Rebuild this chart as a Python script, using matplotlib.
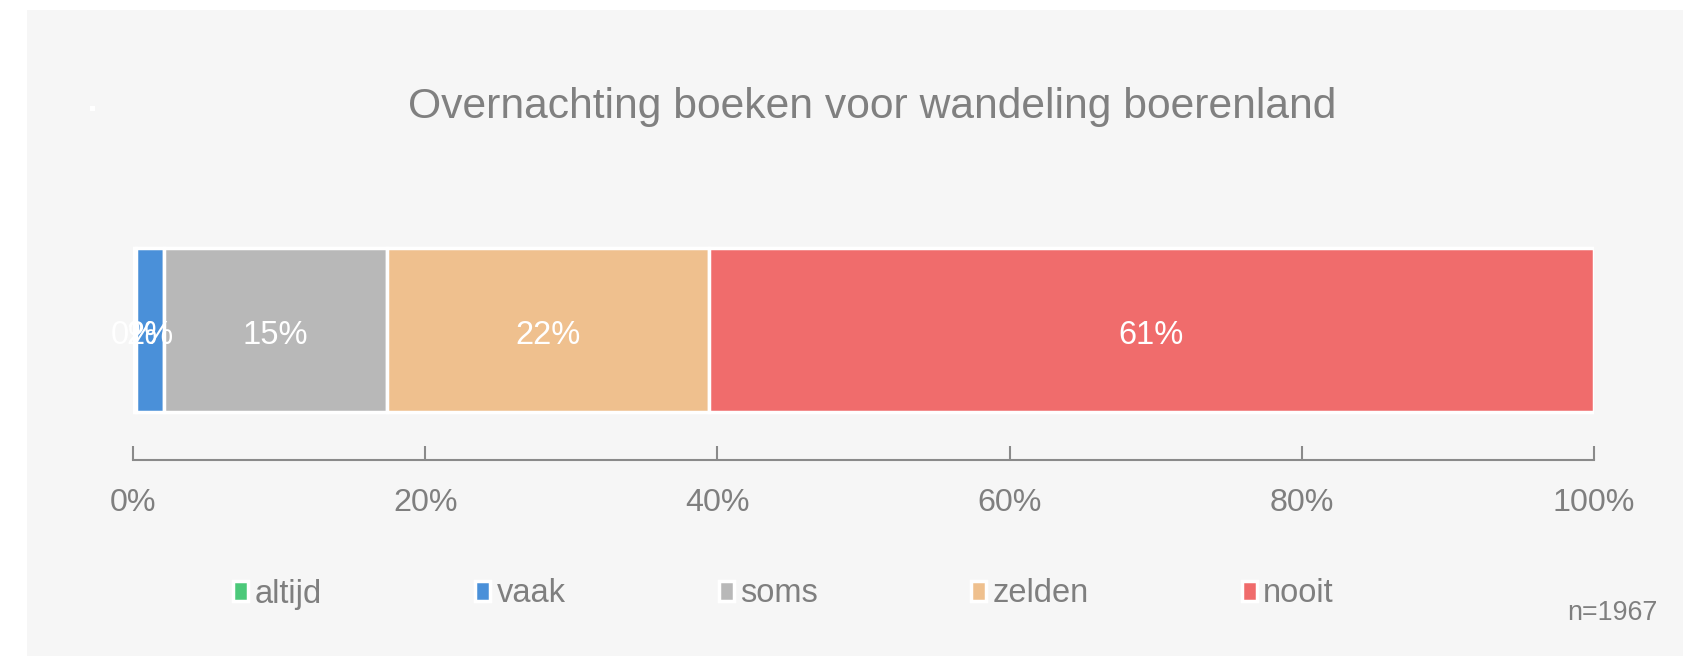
import matplotlib.pyplot as plt
from matplotlib.patches import Rectangle

plt.rcParams['font.family'] = ['Liberation Sans', 'DejaVu Sans']

# answer categories and their share (percent)
categories = ['altijd', 'vaak', 'soms', 'zelden', 'nooit']
shares = [0.2, 1.9, 15.3, 22.0, 60.6]
labels = ['0%', '2%', '15%', '22%', '61%']
colors = ['#4cc97a', '#4a90d9', '#b8b8b8', '#efc08e', '#f06c6c']

title = 'Overnachting boeken voor wandeling boerenland'
n_text = 'n=1967'
ticks = [0, 20, 40, 60, 80, 100]
tick_labels = ['0%', '20%', '40%', '60%', '80%', '100%']

W, H = 1694, 656
fig = plt.figure(figsize=(W / 100, H / 100), dpi=100)
fig.patch.set_facecolor('white')

# grey panel behind the chart
fig.patches.append(Rectangle((27 / W, 0), (1683 - 27) / W, (656 - 10) / H,
                             transform=fig.transFigure, facecolor='#f6f6f6',
                             edgecolor='none', zorder=-10))
fig.patches.append(Rectangle((90 / W, (656 - 111) / H), 5 / W, 5 / H,
                             transform=fig.transFigure, facecolor='white',
                             edgecolor='none', zorder=-9))

ax = fig.add_axes([133 / W, (656 - 460) / H, (1594 - 133) / W, (460 - 200) / H])
ax.set_facecolor('none')

left = 0
for cat, val, lab, col in zip(categories, shares, labels, colors):
    ax.barh(0.5, val, left=left, height=0.63, color=col, edgecolor='white',
            linewidth=2.5, label=cat)
    ax.text(left + val / 2, 0.48, lab, ha='center', va='center',
            color='white', fontsize=23.5)
    left += val

ax.set_xlim(0, 100)
ax.set_ylim(0, 1)
ax.set_yticks([])
for s in ['top', 'left', 'right']:
    ax.spines[s].set_visible(False)
ax.spines['bottom'].set_color('#8a8a8a')
ax.spines['bottom'].set_linewidth(1.5)
ax.set_xticks(ticks)
ax.set_xticklabels(tick_labels)
ax.tick_params(axis='x', direction='in', length=10, width=1.5, color='#8a8a8a',
               labelcolor='#7f7f7f', labelsize=23.2, pad=20)

fig.text(872 / W, (656 - 107) / H, title, ha='center', va='center',
         color='#808080', fontsize=30.7)

leg = fig.legend(loc='center left', bbox_to_anchor=(204 / W, (656 - 594) / H),
                 ncol=5, frameon=False, fontsize=23.5, handlelength=0.45,
                 handleheight=0.6, handletextpad=0.2, columnspacing=4.7,
                 labelcolor='#7f7f7f')

fig.text(1658 / W, (656 - 613) / H, n_text, ha='right', va='center',
         color='#7f7f7f', fontsize=19.4)

fig.savefig('out.png', dpi=100)
